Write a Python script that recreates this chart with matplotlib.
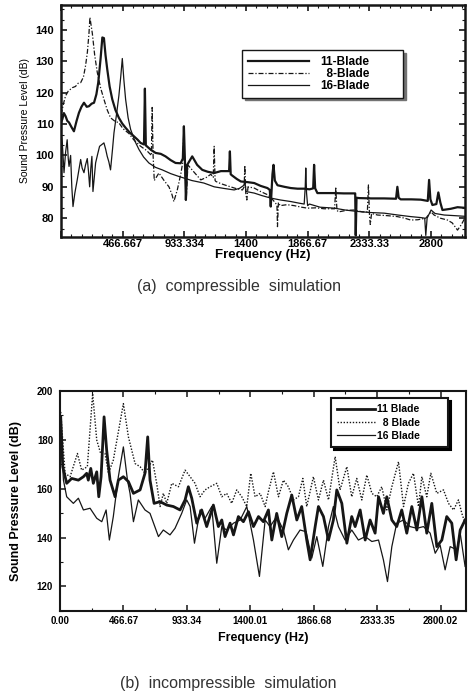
import matplotlib
matplotlib.use("Agg")
import matplotlib.pyplot as plt
import numpy as np
from matplotlib.ticker import FixedLocator, FixedFormatter, MultipleLocator, AutoMinorLocator

plt.rcParams['font.family'] = ['Liberation Sans', 'DejaVu Sans']

# ---- (a) compressible simulation: (Hz, dB) ----
comp_11 = [(0, 110.5), (10, 111.5), (22, 113.5), (35, 112.5), (48, 111), (61, 110.5), (80, 109),
           (98, 107.7), (118, 111), (136, 113.6), (155, 115.5), (174, 116.8), (195, 115.5),
           (212, 115.7), (232, 116.5), (250, 116.8), (268, 119.5), (282, 123.2), (300, 131),
           (313, 137.6), (325, 137.4), (337, 132), (350, 127.5), (368, 122), (388, 117.9),
           (412, 114.5), (438, 112), (463, 110.2), (489, 108.8), (520, 107.3), (552, 106.1),
           (580, 105), (602, 104), (628, 103.5), (635, 121.3), (642, 103.2), (680, 101.8),
           (716, 100.8), (755, 100.5), (791, 99.7), (830, 98.5), (867, 97.6), (905, 97.5),
           (922, 99), (930, 109.3), (938, 98), (945, 85.8), (955, 97), (993, 99.7), (1030, 97),
           (1069, 95.4), (1110, 94.8), (1159, 94.4), (1210, 95), (1260, 95), (1272, 95),
           (1278, 101.3), (1284, 94), (1295, 93.6), (1330, 92.5), (1361, 91.7), (1410, 91.5),
           (1462, 91.2), (1510, 90.3), (1562, 89.6), (1580, 89), (1587, 83.7), (1600, 94),
           (1608, 97), (1618, 92), (1638, 90.5), (1690, 90), (1739, 89.6), (1790, 89.4),
           (1840, 89.4), (1880, 89.2), (1908, 89.5), (1915, 97), (1923, 89.5), (1940, 88),
           (2000, 88), (2067, 88), (2140, 87.9), (2218, 87.9), (2226, 87.9), (2230, 74.5),
           (2236, 86.5), (2256, 86.4), (2350, 86.3), (2445, 86.3), (2535, 86.2), (2545, 90),
           (2555, 86.5), (2570, 86), (2650, 86), (2722, 85.9), (2775, 85.5), (2785, 92.2),
           (2795, 86), (2810, 84.2), (2840, 84.5), (2855, 88.2), (2870, 85), (2886, 82.6),
           (2950, 83), (3000, 83.5), (3055, 83.3)]

comp_8 = [(0, 113), (10, 114.7), (22, 117), (35, 119), (55, 120.5), (86, 121.6), (110, 122),
          (130, 123), (149, 123.2), (170, 125), (186, 128.6), (200, 133), (212, 139), (219, 144),
          (228, 141.5), (237, 139), (255, 132), (275, 126.4), (300, 121.5), (325, 117.9),
          (350, 114.5), (375, 112), (405, 111), (438, 110.4), (470, 108.5), (514, 107), (550, 105),
          (600, 103), (650, 101.5), (684, 100), (690, 115.3), (697, 100), (706, 92), (741, 94.4),
          (780, 92), (817, 90), (840, 87.5), (854, 85.3), (880, 89), (908, 94.4), (922, 98),
          (928, 106), (936, 98), (948, 86), (960, 97), (1000, 95), (1058, 92.2), (1100, 93),
          (1134, 94), (1152, 93), (1159, 102.9), (1166, 92), (1172, 91.7), (1210, 91),
          (1260, 90.3), (1320, 89.5), (1373, 89), (1386, 90), (1391, 96.8), (1398, 88),
          (1406, 85.8), (1415, 90), (1462, 89.6), (1510, 88.5), (1562, 87.5), (1600, 86),
          (1625, 84.7), (1634, 84), (1638, 77.3), (1645, 85), (1658, 84), (1710, 84.3),
          (1764, 84), (1820, 83.5), (1865, 83.2), (1930, 83.3), (1990, 83), (2070, 83),
          (2079, 89.6), (2088, 82.5), (2100, 82), (2160, 82.5), (2218, 82.6), (2280, 82),
          (2318, 82), (2326, 90.6), (2334, 81), (2340, 78), (2350, 81.5), (2395, 81),
          (2470, 80.8), (2545, 80.5), (2600, 80), (2646, 79.4), (2700, 79.5), (2760, 80),
          (2800, 82), (2823, 81), (2870, 80), (2924, 79.4), (2960, 78.5), (3000, 76.2),
          (3030, 78), (3055, 80)]

comp_16 = [(0, 107.2), (10, 104), (23, 94.5), (35, 101), (47, 105), (55, 99), (61, 96.5), (73, 100),
           (82, 90), (91, 83.7), (105, 88), (123, 92.2), (136, 95.5), (149, 98.7), (160, 96),
           (174, 94.5), (186, 97), (199, 99), (208, 95), (217, 90), (226, 96), (234, 99.7),
           (242, 88.5), (252, 93), (262, 97.6), (278, 100.5), (292, 102.9), (310, 103.5),
           (325, 104), (338, 102), (350, 99.7), (362, 98), (375, 95.4), (390, 102), (401, 107.2),
           (420, 113), (438, 119), (452, 125), (464, 130.9), (476, 124), (489, 117.9), (508, 112),
           (527, 108.3), (560, 104.5), (590, 101.9), (625, 99.5), (665, 97.6), (715, 96.2),
           (766, 95.4), (830, 94.2), (892, 93.3), (990, 92), (1081, 91.2), (1159, 90),
           (1230, 89.5), (1310, 89), (1350, 89.5), (1385, 90.5), (1391, 92), (1400, 88.5),
           (1462, 88), (1520, 87.2), (1588, 86.4), (1660, 85.8), (1739, 85.3), (1800, 84.8),
           (1840, 84.5), (1848, 90), (1852, 96), (1858, 88), (1866, 84), (1880, 84.5),
           (1960, 83.5), (2067, 83.2), (2150, 82.6), (2230, 82.2), (2340, 81.8), (2445, 81.6),
           (2550, 81), (2646, 80.5), (2720, 80.2), (2752, 80), (2760, 74.5), (2770, 80),
           (2800, 82.6), (2830, 81.5), (2900, 81), (2980, 80.8), (3055, 80.6)]

comp_xticks = [0, 466.667, 933.334, 1400, 1866.67, 2333.33, 2800]
comp_xlabels = ['', '466.667', '933.334', '1400', '1866.67', '2333.33', '2800']
comp_yticks = [80, 90, 100, 110, 120, 130, 140]
comp_names = ['11-Blade', '\u20078-Blade', '16-Blade']

# ---- (b) incompressible simulation ----
inc_11 = [(5, 189.4), (20, 169), (49, 162.2), (86, 164.2), (135, 163.5), (172, 164.9), (196, 166.3),
          (208, 163.5), (226, 168.3), (245, 162.2), (270, 166.9), (285, 156.7), (302, 164.9),
          (324, 189.4), (343, 175.8), (368, 163.5), (405, 156.7), (429, 163.5), (466, 164.9),
          (503, 162.9), (540, 158.1), (589, 159.5), (625, 166.3), (645, 181.2), (662, 163.5),
          (692, 154), (736, 154.7), (785, 153.3), (834, 152.7), (883, 151.3), (920, 155.4),
          (944, 160.8), (969, 156.1), (1006, 145.9), (1042, 151.3), (1079, 144.5), (1128, 153.3),
          (1165, 144.5), (1190, 147.2), (1214, 140.4), (1251, 145.9), (1276, 141.1), (1312, 148.6),
          (1349, 146.5), (1386, 150.6), (1423, 144.5), (1460, 148.6), (1496, 146.5), (1533, 151.3),
          (1558, 139), (1594, 149.9), (1631, 140.4), (1668, 149.9), (1705, 157.4), (1742, 147.2),
          (1778, 152.7), (1815, 139), (1840, 130.9), (1877, 144.5), (1901, 152.7), (1938, 148.6),
          (1975, 139), (2011, 147.2), (2036, 159.5), (2073, 154), (2110, 137.7), (2146, 148.6),
          (2171, 144.5), (2208, 151.3), (2245, 139), (2281, 147.2), (2318, 141.8), (2343, 156.7),
          (2379, 149.9), (2404, 156.7), (2441, 147.2), (2477, 144.5), (2514, 151.3), (2551, 141.8),
          (2588, 152.7), (2625, 143.1), (2662, 156.7), (2698, 141.8), (2735, 154), (2772, 136.3),
          (2809, 139), (2845, 148.6), (2882, 145.9), (2914, 130.9), (2944, 143.1), (2980, 147.2)]

inc_8 = [(5, 191.4), (37, 166.3), (74, 164.9), (128, 174.4), (159, 167.6), (201, 169), (240, 198.9),
         (270, 179.9), (299, 174.4), (331, 174.4), (356, 166.3), (392, 171.7), (466, 194.8),
         (503, 181.2), (552, 170.3), (589, 169), (625, 166.3), (680, 171.7), (711, 162.2),
         (736, 152.7), (760, 158.1), (785, 154), (822, 162.2), (871, 160.8), (920, 167.6),
         (957, 164.9), (993, 162.2), (1030, 156.7), (1067, 159.5), (1104, 160.8), (1153, 162.2),
         (1190, 156.7), (1226, 158.1), (1263, 154), (1300, 159.5), (1337, 156.7), (1374, 152.7),
         (1403, 166.3), (1435, 156.7), (1472, 158.1), (1509, 152.7), (1533, 158.8), (1570, 166.9),
         (1607, 156.7), (1643, 163.5), (1680, 160.8), (1717, 155.4), (1754, 156.7), (1786, 164.2),
         (1815, 152.7), (1864, 164.9), (1901, 155.4), (1938, 163.5), (1975, 155.4), (2024, 173.1),
         (2060, 159.5), (2110, 169), (2146, 156.7), (2183, 164.2), (2220, 155.4), (2257, 165.6),
         (2294, 158.1), (2330, 156.7), (2367, 160.8), (2404, 151.3), (2441, 160.8), (2490, 171),
         (2527, 152.7), (2563, 162.2), (2600, 166.3), (2637, 152.7), (2662, 164.9), (2698, 156.7),
         (2728, 166.3), (2772, 158.1), (2821, 159.5), (2858, 154), (2895, 151.3), (2931, 155.4),
         (2956, 149.9), (2980, 145.9)]

inc_16 = [(5, 184), (25, 163.5), (49, 156.7), (98, 154), (135, 156.1), (172, 151.3), (221, 152),
          (270, 147.9), (307, 146.5), (339, 151.3), (363, 139), (392, 148.6), (429, 164.9),
          (466, 177.1), (496, 163.5), (515, 158.1), (540, 146.5), (576, 155.4), (625, 151.3),
          (662, 149.9), (724, 140.4), (760, 143.1), (809, 141.1), (846, 143.8), (895, 149.9),
          (932, 155.4), (957, 152.7), (989, 137.7), (1030, 151.3), (1067, 147.9), (1116, 152.7),
          (1153, 129.5), (1190, 144.5), (1226, 143.1), (1276, 145.9), (1325, 147.2), (1374, 152.7),
          (1423, 139), (1467, 124.1), (1509, 147.2), (1545, 144.5), (1594, 148.6), (1643, 143.1),
          (1680, 135), (1717, 139), (1766, 143.1), (1810, 142.4), (1852, 131.6), (1889, 140.4),
          (1933, 128.2), (1975, 144.5), (2011, 152.7), (2048, 144.5), (2097, 139), (2146, 143.1),
          (2195, 139), (2245, 140.4), (2294, 138.4), (2343, 139), (2379, 130.9), (2409, 122),
          (2441, 136.3), (2477, 145.9), (2527, 147.2), (2575, 144.5), (2625, 143.8), (2674, 144.5),
          (2723, 141.8), (2760, 133.6), (2796, 137), (2833, 126.8), (2870, 136.3), (2919, 135),
          (2944, 141.8), (2980, 128.2)]

inc_xticks = [0, 466.67, 933.34, 1400.01, 1866.68, 2333.35, 2800.02]
inc_xlabels = ['0.00', '466.67', '933.34', '1400.01', '1866.68', '2333.35', '2800.02']
inc_yticks = [120, 140, 160, 180, 200]
inc_names = ['11 Blade', '\u20078 Blade', '16 Blade']

INK = '#161616'

fig = plt.figure(figsize=(4.69, 6.95), dpi=100)

# ----- top panel -----
ax1 = fig.add_axes([0.130, 0.659, 0.861, 0.334])
for data, ls, lw in [(comp_11, '-', 1.6), (comp_8, (0, (4, 1.5, 1, 1.5)), 0.9), (comp_16, '-', 0.9)]:
    arr = np.array(data)
    ax1.plot(arr[:, 0], arr[:, 1], color=INK, ls=ls, lw=lw)
ax1.set_xlim(0, 3055)
ax1.set_ylim(74, 148)
ax1.xaxis.set_major_locator(FixedLocator(comp_xticks))
ax1.xaxis.set_major_formatter(FixedFormatter(comp_xlabels))
ax1.xaxis.set_minor_locator(MultipleLocator(466.667 / 6))
ax1.yaxis.set_major_locator(FixedLocator(comp_yticks))
ax1.yaxis.set_minor_locator(AutoMinorLocator(3))
ax1.tick_params(which='both', direction='in', top=True, right=True, color=INK)
ax1.tick_params(which='major', length=4, width=1.2)
ax1.tick_params(which='minor', length=2, width=0.8)
ax1.tick_params(axis='x', pad=1.5, labelsize=8)
ax1.tick_params(axis='y', pad=5, labelsize=8)
for lab in ax1.get_xticklabels() + ax1.get_yticklabels():
    lab.set_fontweight('bold')
for sp in ax1.spines.values():
    sp.set_linewidth(1.8)
    sp.set_color(INK)
ax1.set_xlabel('Frequency (Hz)', fontsize=9.5, fontweight='bold', labelpad=0)
ax1.set_ylabel('Sound Pressure Level (dB)', fontsize=7.5, labelpad=4)
leg1 = ax1.legend(comp_names, loc='upper left', bbox_to_anchor=(0.448, 0.615, 0.399, 0.191),
                  mode='expand', borderaxespad=0, handlelength=5.2, handletextpad=0.9,
                  labelspacing=0.0, borderpad=0.5, fancybox=False, edgecolor=INK,
                  shadow={'color': '0.45', 'alpha': 1}, prop={'weight': 'bold', 'size': 8.5})
leg1.get_frame().set_linewidth(1.0)

fig.text(0.51, 0.588, '(a)  compressible  simulation', ha='center', va='center', fontsize=11.5,
         color='#333333')

# ----- bottom panel -----
ax2 = fig.add_axes([0.128, 0.121, 0.866, 0.3165])
for data, ls, lw in [(inc_11, '-', 2.0), (inc_8, (0, (1, 1.2)), 1.0), (inc_16, '-', 0.9)]:
    arr = np.array(data)
    ax2.plot(arr[:, 0], arr[:, 1], color=INK, ls=ls, lw=lw)
ax2.set_xlim(0, 2988)
ax2.set_ylim(110, 200)
ax2.xaxis.set_major_locator(FixedLocator(inc_xticks))
ax2.xaxis.set_major_formatter(FixedFormatter(inc_xlabels))
ax2.xaxis.set_minor_locator(AutoMinorLocator(2))
ax2.yaxis.set_major_locator(FixedLocator(inc_yticks))
ax2.yaxis.set_minor_locator(AutoMinorLocator(2))
ax2.tick_params(which='both', direction='in', top=True, right=False, color=INK)
ax2.tick_params(which='major', length=4, width=1.1)
ax2.tick_params(which='minor', length=2.5, width=0.8)
ax2.tick_params(axis='x', pad=4, labelsize=7)
ax2.tick_params(axis='y', pad=5, labelsize=7)
for lab in ax2.get_xticklabels() + ax2.get_yticklabels():
    lab.set_fontweight('bold')
for sp in ax2.spines.values():
    sp.set_linewidth(1.5)
    sp.set_color(INK)
ax2.set_xlabel('Frequency (Hz)', fontsize=9, fontweight='bold', labelpad=4)
ax2.set_ylabel('Sound Pressure Level (dB)', fontsize=9, fontweight='bold', labelpad=11)
leg2 = ax2.legend(inc_names, loc='upper left', bbox_to_anchor=(0.667, 0.749, 0.289, 0.218),
                  mode='expand', borderaxespad=0, handlelength=3.6, handletextpad=0.2,
                  labelspacing=0.3, borderpad=0.6, fancybox=False, edgecolor=INK,
                  shadow={'color': 'black', 'alpha': 1}, prop={'weight': 'bold', 'size': 7.5})
leg2.get_frame().set_linewidth(1.5)

fig.text(0.487, 0.017, '(b)  incompressible  simulation', ha='center', va='center', fontsize=11.5,
         color='#333333')

fig.savefig('out.png', dpi=100)
